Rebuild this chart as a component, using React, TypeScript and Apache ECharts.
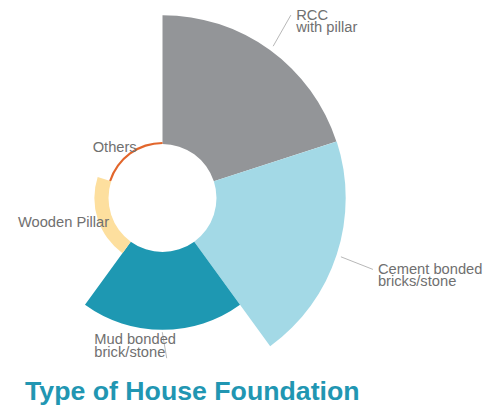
import React, { useEffect, useRef } from "react";
import * as echarts from "echarts";

const categories = [
  "RCC with pillar",
  "Cement bonded bricks/stone",
  "Mud bonded brick/stone",
  "Wooden Pillar",
  "Others",
];
const labelTexts = [
  "RCC\nwith pillar",
  "Cement bonded\nbricks/stone",
  "Mud bonded\nbrick/stone",
  "Wooden Pillar",
  "Others",
];
const values = [36.4, 36.5, 22.0, 4.0, 0.6];
const colors = ["#939598", "#a3d9e6", "#1e98b2", "#fddf9e", "#e2662c"];
const titleText = "Type of House Foundation";

// label placement relative to the slice's outer edge point (style only)
const labelPlacement = [
  { sx: 3.2, sy: -3.9, ex: 20.9, ey: -35, tx: 26.2, ty: -29, align: "left" },
  { sx: 4.2, sy: 2.2, ex: 36.2, ey: 14.8, tx: 41.2, ty: 20.2, align: "left" },
  { sx: -0.2, sy: 2.3, ex: 4.2, ey: 28.3, tx: -68.2, ty: 15.7, align: "left" },
  { sx: 0, sy: 0, ex: 0, ey: 0, tx: 11.4, ty: 2.8, align: "right" },
  { sx: 0, sy: 0, ex: 0, ey: 0, tx: 7.2, ty: -5.2, align: "right" },
];

export default function App() {
  const ref = useRef<HTMLDivElement>(null);
  useEffect(() => {
    if (!ref.current) return;
    const chart = echarts.init(ref.current, null, { renderer: "svg" });
    chart.setOption({
      animation: false,
      title: {
        text: titleText,
        left: 25,
        top: 378,
        padding: 0,
        textStyle: {
          fontFamily: "Arial",
          fontSize: 26.7,
          fontWeight: "bold",
          color: "#2196b2",
          lineHeight: 26,
        },
      },
      series: [
        {
          type: "pie",
          roseType: "area",
          center: [162.5, 198],
          radius: [54, 183.2],
          startAngle: 90,
          clockwise: true,
          avoidLabelOverlap: false,
          label: {
            show: true,
            position: "outside",
            width: 140,
            overflow: "none",
            fontFamily: "Arial",
            fontSize: 14.7,
            lineHeight: 12.4,
            color: "#707070",
            bleedMargin: 0,
            formatter: (p: any) => labelTexts[p.dataIndex],
          },
          labelLine: {
            show: true,
            length: 3,
            length2: 0,
            lineStyle: { color: "#b8b8b8", width: 1 },
          },
          labelLayout: (params: any) => {
            const pts = params.labelLinePoints;
            if (!pts || !pts[0]) return {};
            const o = labelPlacement[params.dataIndex];
            const x0 = pts[0][0];
            const y0 = pts[0][1];
            return {
              x: x0 + o.tx,
              y: y0 + o.ty,
              align: o.align,
              verticalAlign: "middle",
              labelLinePoints: [
                [x0 + o.sx, y0 + o.sy],
                [x0 + o.ex, y0 + o.ey],
              ],
            };
          },
          emphasis: { disabled: true },
          itemStyle: { borderWidth: 0 },
          data: categories.map((name, i) => ({
            name,
            value: values[i],
            itemStyle: { color: colors[i] },
          })),
        },
      ],
    });
    return () => chart.dispose();
  }, []);
  return (
    <div
      ref={ref}
      style={{ position: "absolute", left: 0, top: 0, width: 483, height: 407 }}
    />
  );
}
